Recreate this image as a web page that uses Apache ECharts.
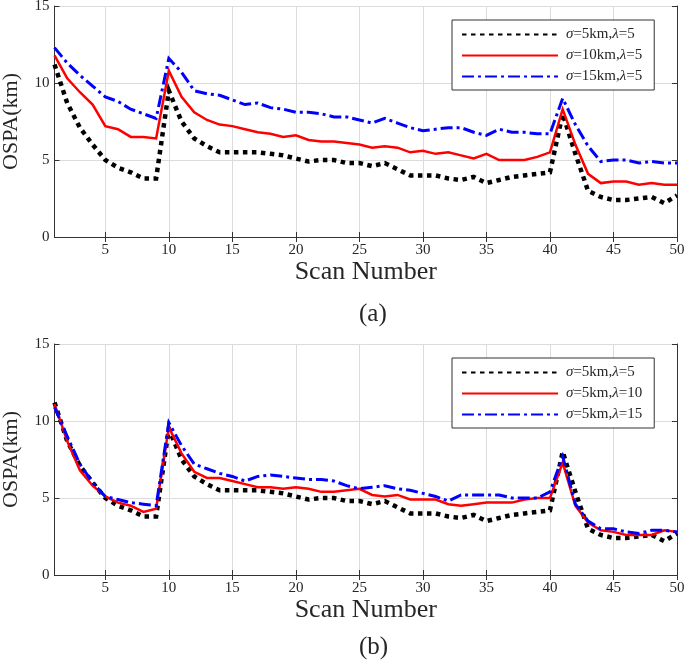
<!DOCTYPE html>
<html>
<head>
<meta charset="utf-8">
<script src="https://cdn.jsdelivr.net/npm/echarts@6/dist/echarts.min.js"></script>
<style>
html,body{margin:0;padding:0;background:#fff;}
#c{width:685px;height:666px;}
</style>
</head>
<body>
<div id="c"></div>
<script>
var scans = [1,2,3,4,5,6,7,8,9,10,11,12,13,14,15,16,17,18,19,20,21,22,23,24,25,26,27,28,29,30,31,32,33,34,35,36,37,38,39,40,41,42,43,44,45,46,47,48,49,50];
var yTicks = [0, 5, 10, 15];

// sigma=5km, lambda=5 (same in both panels)
var s5l5 = [11.2,8.7,7.1,6.0,5.0,4.5,4.2,3.8,3.8,9.5, 7.5,6.4,5.9,5.5,5.5,5.5,5.5,5.4,5.3,5.1, 4.9,5.0,5.0,4.8,4.8,4.6,4.8,4.4,4.0,4.0, 4.0,3.8,3.7,3.9,3.5,3.7,3.9,4.0,4.1,4.2, 8.0,5.4,3.0,2.6,2.4,2.4,2.5,2.6,2.2,2.7];
// panel (a)
var s10l5 = [11.8,10.3,9.4,8.6,7.2,7.0,6.5,6.5,6.4,10.8, 9.1,8.1,7.6,7.3,7.2,7.0,6.8,6.7,6.5,6.6, 6.3,6.2,6.2,6.1,6.0,5.8,5.9,5.8,5.5,5.6, 5.4,5.5,5.3,5.1,5.4,5.0,5.0,5.0,5.2,5.5, 8.3,6.0,4.1,3.5,3.6,3.6,3.4,3.5,3.4,3.4];
var s15l5 = [12.3,11.3,10.5,9.8,9.1,8.8,8.3,8.0,7.7,11.6, 10.7,9.5,9.3,9.2,8.9,8.6,8.7,8.4,8.3,8.1, 8.1,8.0,7.8,7.8,7.6,7.4,7.7,7.4,7.1,6.9, 7.0,7.1,7.1,6.8,6.6,7.0,6.8,6.8,6.7,6.7, 9.0,7.3,5.9,4.9,5.0,5.0,4.8,4.9,4.8,4.8];
// panel (b)
var s5l10 = [11.1,8.7,6.8,5.8,5.1,4.7,4.5,4.1,4.3,9.6, 7.9,6.7,6.3,6.3,6.1,5.9,5.7,5.7,5.6,5.7, 5.6,5.4,5.4,5.5,5.6,5.2,5.1,5.2,4.9,4.9, 4.9,4.6,4.5,4.6,4.7,4.7,4.7,4.9,5.0,5.0, 7.3,4.5,3.4,2.9,2.8,2.6,2.6,2.6,2.9,2.8];
var s5l15 = [10.9,9.0,7.2,6.0,5.1,4.9,4.7,4.6,4.5,9.9, 8.4,7.2,6.9,6.6,6.4,6.1,6.4,6.5,6.4,6.3, 6.2,6.2,6.1,5.8,5.6,5.7,5.8,5.6,5.5,5.3, 5.1,4.8,5.2,5.2,5.2,5.2,5.0,5.0,5.0,5.4, 7.7,4.6,3.5,3.0,3.0,2.8,2.7,2.9,2.9,2.8];

var namesA = ['σ=5km,λ=5', 'σ=10km,λ=5', 'σ=15km,λ=5'];
var namesB = ['σ=5km,λ=5 ', 'σ=5km,λ=10', 'σ=5km,λ=15'];

var FONT = 'Liberation Serif';
var INK = '#262626';
var every5 = function (i, v) { return Number(v) % 5 === 0; };

function fmtName(n) {
  return n.trim().replace(/σ/g, '{i|σ}').replace(/λ/g, '{i|λ}');
}

var chart = echarts.init(document.getElementById('c'), null, {renderer: 'canvas'});

var grids = [
  {left: 54.5, top: 6, width: 622.5, height: 231, containLabel: false, outerBoundsMode: 'none'},
  {left: 54.5, top: 344, width: 622.5, height: 231, containLabel: false, outerBoundsMode: 'none'}
];

var xAxes = [], yAxes = [];
grids.forEach(function (g, gi) {
  xAxes.push({
    gridIndex: gi, type: 'category', data: scans, boundaryGap: false, position: 'bottom',
    name: 'Scan Number', nameLocation: 'middle', nameGap: 21,
    nameTextStyle: {fontFamily: FONT, fontSize: 26, color: INK},
    axisLine: {show: true, lineStyle: {color: '#333', width: 1}},
    axisTick: {show: true, inside: true, length: 5, interval: every5, lineStyle: {color: '#333'}},
    axisLabel: {interval: every5, fontFamily: FONT, fontSize: 15, color: INK, margin: 6},
    splitLine: {show: true, interval: every5, lineStyle: {color: '#dcdcdc', width: 1}}
  });
  xAxes.push({
    gridIndex: gi, type: 'category', data: scans, boundaryGap: false, position: 'top',
    axisLine: {show: true, lineStyle: {color: '#333', width: 1}},
    axisTick: {show: true, inside: true, length: 5, interval: every5, lineStyle: {color: '#333'}},
    axisLabel: {show: false}, splitLine: {show: false}
  });
  yAxes.push({
    gridIndex: gi, type: 'value', min: yTicks[0], max: yTicks[yTicks.length - 1], interval: 5, position: 'left',
    name: 'OSPA(km)', nameLocation: 'middle', nameGap: 32,
    nameTextStyle: {fontFamily: FONT, fontSize: 22, color: INK},
    axisLine: {show: true, lineStyle: {color: '#333', width: 1}},
    axisTick: {show: true, inside: true, length: 5, lineStyle: {color: '#333'}},
    axisLabel: {fontFamily: FONT, fontSize: 15, color: INK, margin: 5},
    splitLine: {show: true, lineStyle: {color: '#dcdcdc', width: 1}}
  });
  yAxes.push({
    gridIndex: gi, type: 'value', min: yTicks[0], max: yTicks[yTicks.length - 1], interval: 5, position: 'right',
    axisLine: {show: true, lineStyle: {color: '#333', width: 1}},
    axisTick: {show: true, inside: true, length: 5, lineStyle: {color: '#333'}},
    axisLabel: {show: false}, splitLine: {show: false}
  });
});

var styles = [
  {color: '#000000', width: 4.5, type: [4.5, 4.5]},
  {color: '#ff0000', width: 2.5, type: 'solid'},
  {color: '#0000ff', width: 3, type: [12, 4, 3, 4]}
];

function mk(name, data, gi, si, z) {
  var st = styles[si];
  return {
    name: name, type: 'line', data: data, xAxisIndex: gi * 2, yAxisIndex: gi * 2,
    symbol: 'none', showSymbol: false, smooth: false, z: z,
    lineStyle: {color: st.color, width: st.width, type: st.type, cap: 'butt', join: 'miter'},
    itemStyle: {color: st.color}
  };
}

var series = [
  mk(namesA[0], s5l5, 0, 0, 3),
  mk(namesA[1], s10l5, 0, 1, 4),
  mk(namesA[2], s15l5, 0, 2, 5),
  mk(namesB[0], s5l5, 1, 0, 3),
  mk(namesB[1], s5l10, 1, 1, 4),
  mk(namesB[2], s5l15, 1, 2, 5)
];

function legendFor(names, top) {
  return {
    data: names, orient: 'vertical', left: 452, top: top,
    itemWidth: 96, itemHeight: 12, itemGap: 6,
    padding: [7, 12, 6, 9],
    borderColor: '#333', borderWidth: 1, backgroundColor: '#fff',
    selectedMode: false,
    itemStyle: {opacity: 0},
    formatter: function (n) { return fmtName(n); },
    textStyle: {fontFamily: FONT, fontSize: 15, color: INK, padding: [0, 0, 0, 3],
      rich: {i: {fontFamily: FONT, fontSize: 15, fontStyle: 'italic', color: INK}}}
  };
}

chart.setOption({
  animation: false,
  backgroundColor: '#ffffff',
  grid: grids,
  xAxis: xAxes,
  yAxis: yAxes,
  legend: [legendFor(namesA, 20), legendFor(namesB, 358)],
  title: [
    {text: '(a)', left: 354, top: 297, textStyle: {fontFamily: FONT, fontSize: 25, fontWeight: 'normal', color: INK}},
    {text: '(b)', left: 354, top: 630, textStyle: {fontFamily: FONT, fontSize: 25, fontWeight: 'normal', color: INK}}
  ],
  series: series
});
</script>
</body>
</html>
